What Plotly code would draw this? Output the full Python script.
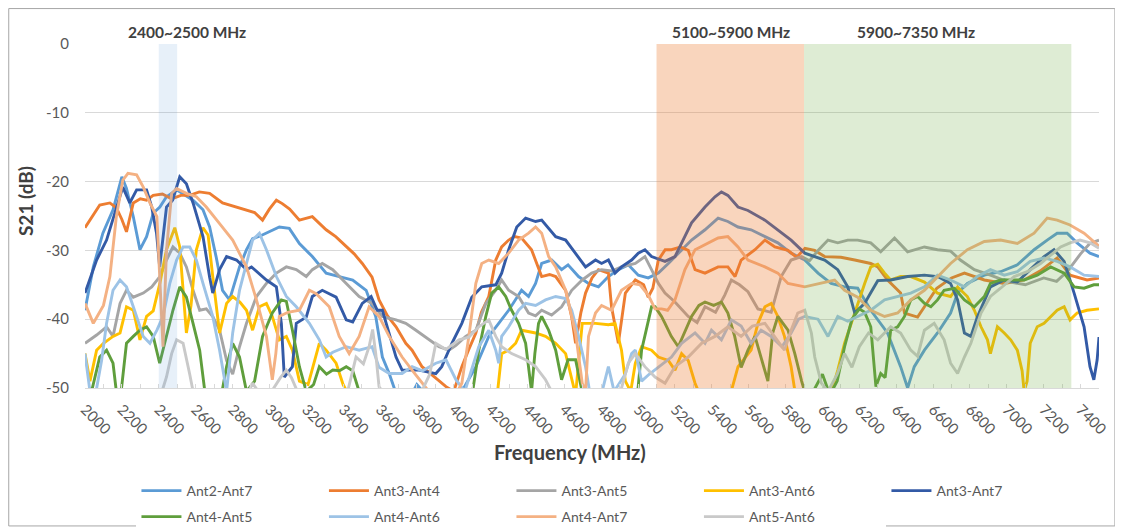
import plotly.graph_objects as go

# Frequency (MHz) / S21 (dB) per antenna pair
ANT2_7_MHZ = [2000, 2045, 2097, 2152, 2200, 2225, 2262, 2298, 2334, 2370,
              2406, 2442, 2497, 2532, 2586, 2640, 2676, 2711, 2746, 2784,
              2838, 2876, 2909, 2950, 2984, 3020, 3054, 3108, 3163, 3233,
              3308, 3379, 3452, 3525, 3577, 3613, 3650, 3690, 3750, 3800,
              3850, 3950, 4044, 4120, 4190, 4244, 4298, 4368, 4406, 4444,
              4477, 4531, 4585, 4620, 4677, 4731, 4785, 4839, 4893, 4947,
              5001, 5055, 5110, 5164, 5218, 5290, 5363, 5434, 5487, 5542,
              5613, 5688, 5758, 5830, 5904, 5976, 6047, 6120, 6191, 6262,
              6353, 6424, 6462, 6498, 6553, 6624, 6695, 6733, 6786, 6878,
              6966, 7057, 7148, 7219, 7273, 7327, 7381, 7451, 7500]
ANT2_7_DB = [-38.7, -32.4, -27.5, -24.1, -19.3, -21.0, -25.1, -29.9, -28.0, -24.6,
             -23.7, -22.2, -21.2, -21.8, -22.7, -24.1, -26.6, -30.9, -35.8, -37.2,
             -32.4, -29.9, -28.3, -27.9, -27.5, -27.0, -26.6, -26.8, -29.0, -30.9,
             -33.3, -33.8, -34.3, -35.8, -39.6, -45.5, -47.9, -51.0, -52.0, -49.5,
             -51.0, -53.0, -50.5, -46.9, -42.5, -40.6, -38.7, -35.8, -36.7, -34.8,
             -31.9, -31.4, -32.8, -32.1, -33.8, -34.8, -35.3, -33.8, -32.8, -32.1,
             -33.6, -34.0, -33.3, -31.9, -30.4, -28.5, -27.0, -25.3, -25.8, -26.6,
             -27.0, -28.0, -28.9, -30.4, -31.4, -33.3, -34.8, -35.3, -35.5, -38.7,
             -42.0, -46.9, -50.0, -46.9, -44.5, -42.0, -39.1, -36.2, -34.8, -33.6,
             -33.1, -32.1, -29.9, -28.5, -27.5, -27.5, -28.9, -30.4, -30.9]

ANT3_4_MHZ = [2000, 2040, 2080, 2135, 2170, 2200, 2225, 2262, 2300, 2334,
              2370, 2420, 2470, 2520, 2568, 2620, 2676, 2746, 2800, 2876,
              2920, 2963, 3000, 3038, 3070, 3110, 3163, 3233, 3308, 3360,
              3417, 3460, 3504, 3557, 3595, 3640, 3687, 3740, 3774, 3828,
              3900, 3958, 4000, 4044, 4080, 4120, 4150, 4190, 4228, 4260,
              4298, 4330, 4368, 4422, 4477, 4520, 4553, 4607, 4640, 4661,
              4690, 4715, 4750, 4785, 4839, 4856, 4893, 4931, 4985, 5030,
              5055, 5080, 5110, 5147, 5181, 5230, 5272, 5309, 5363, 5434,
              5487, 5526, 5559, 5634, 5688, 5742, 5813, 5860, 5905, 5958,
              6012, 6100, 6175, 6262, 6300, 6353, 6424, 6445, 6516, 6560,
              6620, 6700, 6770, 6878, 6986, 7094, 7180, 7273, 7343, 7435,
              7500]
ANT3_4_DB = [-26.7, -25.0, -23.4, -23.1, -23.8, -25.5, -27.3, -23.1, -22.5, -22.7,
             -22.0, -21.8, -22.5, -22.0, -22.0, -21.5, -21.7, -23.1, -23.5, -24.1,
             -24.5, -25.6, -24.0, -22.7, -23.2, -24.0, -25.6, -25.1, -27.0, -28.0,
             -29.5, -30.5, -31.9, -33.9, -37.2, -39.5, -41.1, -43.5, -44.5, -46.9,
             -48.5, -49.8, -50.5, -46.9, -44.5, -42.0, -39.0, -36.7, -31.4, -29.5,
             -28.5, -28.0, -28.2, -29.9, -33.8, -33.5, -33.8, -35.8, -39.7, -43.5,
             -39.0, -36.2, -34.0, -32.8, -33.3, -38.2, -43.5, -36.2, -34.3, -35.0,
             -36.8, -35.5, -31.4, -29.9, -29.9, -29.5, -30.0, -32.8, -33.3, -32.4,
             -32.4, -33.8, -31.4, -29.9, -28.5, -29.5, -30.0, -31.0, -29.7, -30.0,
             -30.9, -31.0, -31.4, -31.9, -32.4, -34.3, -36.2, -39.1, -39.7, -38.0,
             -35.5, -34.0, -33.3, -34.3, -34.8, -34.3, -33.0, -31.1, -33.6, -34.3,
             -34.0]

ANT3_5_MHZ = [2000, 2063, 2117, 2152, 2190, 2225, 2262, 2316, 2362, 2406,
              2442, 2477, 2514, 2550, 2586, 2622, 2658, 2693, 2730, 2768,
              2801, 2838, 2876, 2930, 2984, 3038, 3092, 3146, 3200, 3233,
              3287, 3344, 3417, 3487, 3557, 3613, 3687, 3740, 3795, 3866,
              3920, 3974, 4012, 4065, 4120, 4174, 4228, 4260, 4298, 4352,
              4406, 4444, 4477, 4531, 4585, 4640, 4697, 4748, 4802, 4856,
              4910, 4985, 5037, 5073, 5110, 5146, 5200, 5272, 5320, 5363,
              5420, 5470, 5506, 5550, 5596, 5650, 5722, 5776, 5830, 5887,
              5930, 5976, 6030, 6083, 6137, 6191, 6262, 6316, 6391, 6462,
              6553, 6624, 6695, 6748, 6824, 6911, 7000, 7100, 7200, 7270,
              7330, 7400, 7450, 7500]
ANT3_5_DB = [-43.5, -42.3, -41.1, -42.5, -37.7, -35.8, -36.8, -36.2, -35.3, -33.8,
             -31.4, -29.5, -30.4, -32.4, -35.8, -38.7, -38.5, -39.6, -41.6, -46.0,
             -48.0, -44.0, -40.6, -36.7, -34.8, -33.3, -32.4, -32.8, -33.8, -32.8,
             -31.9, -32.8, -34.8, -36.7, -37.7, -39.6, -40.1, -40.6, -41.6, -43.0,
             -44.0, -44.5, -43.8, -42.5, -41.6, -37.7, -35.8, -34.3, -35.8, -36.7,
             -39.1, -39.5, -38.7, -39.4, -38.2, -35.8, -34.3, -33.3, -32.8, -33.0,
             -32.4, -31.9, -30.9, -32.8, -34.8, -36.2, -37.5, -39.6, -40.5, -38.2,
             -39.0, -36.5, -34.3, -35.0, -36.0, -38.5, -39.0, -33.8, -31.4, -30.9,
             -31.5, -30.0, -28.5, -28.9, -28.5, -28.5, -28.9, -30.2, -28.2, -30.2,
             -29.5, -29.9, -30.1, -31.4, -32.8, -33.6, -34.5, -35.0, -34.0, -34.5,
             -33.0, -30.5, -29.0, -28.5]

ANT3_6_MHZ = [2000, 2027, 2063, 2100, 2152, 2190, 2225, 2262, 2298, 2334,
              2370, 2406, 2442, 2487, 2514, 2532, 2550, 2575, 2604, 2640,
              2668, 2693, 2730, 2768, 2801, 2840, 2876, 2909, 2946, 2984,
              3016, 3054, 3092, 3125, 3163, 3210, 3271, 3308, 3362, 3400,
              3450, 3600, 3800, 4000, 4200, 4240, 4260, 4298, 4336, 4368,
              4406, 4444, 4498, 4553, 4607, 4640, 4661, 4697, 4769, 4839,
              4875, 4910, 4931, 4960, 4985, 5019, 5073, 5110, 5164, 5200,
              5236, 5272, 5309, 5350, 5450, 5500, 5542, 5613, 5650, 5688,
              5722, 5758, 5794, 5830, 5848, 5900, 6000, 6050, 6083, 6120,
              6156, 6191, 6229, 6262, 6300, 6337, 6370, 6424, 6479, 6553,
              6624, 6695, 6733, 6786, 6824, 6860, 6895, 6911, 6949, 6986,
              7021, 7057, 7083, 7094, 7110, 7127, 7165, 7202, 7238, 7273,
              7311, 7343, 7381, 7435, 7500]
ANT3_6_DB = [-45.0, -49.0, -44.5, -43.5, -42.5, -42.0, -38.2, -38.7, -43.0, -39.6,
             -38.8, -34.8, -29.9, -26.7, -29.5, -35.8, -42.0, -38.0, -29.9, -26.7,
             -27.8, -33.8, -42.0, -37.7, -36.7, -37.5, -38.7, -41.6, -38.2, -37.7,
             -39.6, -43.0, -42.5, -44.5, -49.0, -49.5, -43.5, -44.5, -46.4, -49.5,
             -52.0, -54.0, -55.0, -55.0, -53.0, -50.0, -45.0, -44.5, -43.5, -41.6,
             -41.8, -42.0, -42.5, -43.5, -45.0, -49.0, -51.0, -40.6, -40.6, -40.8,
             -40.6, -44.5, -49.0, -50.5, -46.4, -44.0, -44.5, -45.5, -46.0, -47.4,
             -45.0, -46.0, -49.3, -52.0, -53.0, -51.0, -46.9, -44.5, -40.6, -38.2,
             -37.7, -39.6, -42.5, -46.9, -50.0, -53.0, -54.0, -50.5, -47.4, -43.5,
             -40.6, -37.7, -34.8, -32.4, -32.0, -33.3, -34.3, -33.8, -33.8, -34.6,
             -36.2, -36.7, -35.3, -36.7, -38.7, -41.1, -43.0, -45.0, -41.1, -42.0,
             -43.0, -44.5, -47.5, -50.5, -49.0, -43.5, -41.1, -40.6, -39.6, -38.7,
             -38.2, -40.1, -39.1, -38.7, -38.5]

ANT3_7_MHZ = [2000, 2063, 2117, 2170, 2205, 2243, 2280, 2334, 2362, 2388,
              2405, 2442, 2475, 2514, 2550, 2586, 2640, 2676, 2693, 2730,
              2768, 2822, 2876, 2903, 2984, 3038, 3065, 3081, 3125, 3146,
              3200, 3233, 3287, 3362, 3417, 3452, 3504, 3552, 3585, 3613,
              3650, 3687, 3720, 3812, 3903, 3935, 3990, 4044, 4098, 4152,
              4228, 4260, 4298, 4342, 4390, 4444, 4477, 4553, 4607, 4661,
              4715, 4769, 4802, 4839, 4875, 4910, 4965, 5001, 5037, 5073,
              5127, 5146, 5200, 5236, 5290, 5363, 5417, 5452, 5487, 5542,
              5596, 5688, 5758, 5830, 5904, 5958, 6012, 6083, 6137, 6175,
              6229, 6265, 6300, 6370, 6462, 6553, 6625, 6695, 6733, 6770,
              6805, 6840, 6878, 6911, 6986, 7057, 7127, 7202, 7256, 7311,
              7365, 7419, 7451, 7472, 7490, 7500]
ANT3_7_DB = [-36.2, -31.4, -28.5, -23.7, -20.8, -23.1, -21.2, -21.2, -23.7, -27.5,
             -32.4, -23.7, -22.7, -19.3, -20.3, -23.1, -28.0, -33.9, -36.2, -32.8,
             -30.9, -31.4, -32.8, -32.4, -34.3, -35.3, -40.6, -48.4, -46.9, -40.6,
             -39.7, -36.7, -35.8, -36.8, -40.1, -40.4, -37.7, -36.7, -38.7, -38.7,
             -42.0, -45.5, -47.4, -47.4, -47.9, -46.9, -43.5, -40.6, -36.8, -35.3,
             -35.0, -33.3, -29.9, -26.6, -25.3, -25.8, -25.6, -28.0, -28.5, -30.4,
             -32.4, -31.4, -31.9, -31.4, -33.3, -32.4, -31.4, -30.4, -29.9, -30.9,
             -31.4, -31.6, -30.9, -28.9, -26.0, -23.7, -22.2, -21.5, -22.0, -23.7,
             -24.2, -25.6, -27.0, -28.5, -30.4, -30.9, -31.4, -32.8, -35.3, -39.1,
             -37.7, -36.0, -34.4, -34.3, -33.8, -33.6, -33.8, -34.8, -37.2, -42.0,
             -42.5, -39.7, -37.2, -35.3, -34.3, -34.6, -32.8, -30.9, -29.9, -31.6,
             -36.2, -41.1, -46.9, -48.8, -45.9, -42.6]

ANT4_5_MHZ = [2000, 2040, 2080, 2117, 2152, 2170, 2190, 2210, 2225, 2262,
              2298, 2334, 2370, 2405, 2442, 2477, 2514, 2550, 2586, 2622,
              2650, 2700, 2740, 2768, 2801, 2838, 2876, 2920, 2963, 3016,
              3065, 3092, 3125, 3163, 3200, 3240, 3271, 3310, 3344, 3380,
              3417, 3452, 3487, 3600, 3800, 4000, 4100, 4136, 4174, 4206,
              4244, 4282, 4314, 4352, 4390, 4422, 4440, 4460, 4477, 4515,
              4553, 4585, 4620, 4661, 4700, 4800, 4950, 5000, 5019, 5055,
              5073, 5092, 5127, 5146, 5180, 5218, 5250, 5290, 5330, 5363,
              5410, 5452, 5487, 5524, 5559, 5596, 5634, 5667, 5704, 5730,
              5758, 5813, 5850, 5887, 5920, 5960, 6000, 6040, 6080, 6120,
              6160, 6200, 6229, 6262, 6290, 6316, 6340, 6370, 6408, 6445,
              6479, 6516, 6553, 6588, 6624, 6660, 6716, 6770, 6824, 6878,
              6911, 6966, 7021, 7094, 7165, 7238, 7311, 7365, 7419, 7472,
              7500]
ANT4_5_DB = [-50.5, -50.0, -45.5, -44.5, -46.4, -50.5, -52.0, -47.0, -43.5, -42.5,
             -41.6, -41.1, -42.5, -46.4, -42.5, -38.7, -35.3, -36.8, -40.6, -44.5,
             -50.5, -53.0, -51.0, -46.9, -43.5, -45.5, -50.5, -49.0, -42.5, -39.1,
             -37.2, -37.4, -41.6, -46.9, -50.5, -49.5, -46.9, -48.0, -47.4, -47.5,
             -46.9, -47.5, -50.5, -54.0, -55.0, -55.0, -51.0, -44.5, -39.6, -36.2,
             -35.3, -36.7, -38.7, -40.6, -43.5, -50.5, -45.0, -40.6, -39.6, -41.6,
             -44.5, -48.8, -45.9, -45.9, -51.0, -54.0, -52.0, -50.0, -44.5, -40.6,
             -38.2, -38.2, -39.6, -40.6, -42.5, -44.0, -42.0, -39.6, -38.0, -37.5,
             -38.0, -37.5, -39.1, -42.5, -47.0, -44.5, -42.5, -45.5, -49.0, -42.0,
             -39.6, -41.6, -45.0, -49.0, -52.0, -50.0, -48.0, -51.0, -49.0, -44.0,
             -40.0, -38.5, -39.0, -41.1, -49.8, -47.9, -48.5, -41.6, -41.1, -39.6,
             -37.2, -36.7, -37.7, -38.2, -37.2, -35.8, -35.5, -37.2, -38.2, -36.7,
             -34.8, -34.3, -34.3, -34.3, -33.6, -32.4, -33.3, -35.3, -35.5, -35.0,
             -35.0]

ANT4_6_MHZ = [2000, 2027, 2060, 2090, 2117, 2152, 2190, 2225, 2262, 2316,
              2352, 2390, 2423, 2460, 2497, 2532, 2568, 2604, 2640, 2693,
              2730, 2768, 2801, 2838, 2876, 2909, 2946, 2984, 3038, 3092,
              3146, 3217, 3271, 3308, 3344, 3417, 3487, 3557, 3595, 3650,
              3720, 3774, 3830, 3903, 3958, 4012, 4060, 4100, 4136, 4190,
              4228, 4244, 4260, 4298, 4352, 4390, 4444, 4498, 4553, 4607,
              4640, 4677, 4715, 4740, 4800, 4839, 4870, 4930, 4965, 4985,
              5019, 5060, 5110, 5181, 5236, 5309, 5363, 5398, 5452, 5506,
              5559, 5613, 5667, 5722, 5780, 5830, 5870, 5904, 5976, 6030,
              6083, 6137, 6191, 6262, 6337, 6408, 6479, 6553, 6624, 6695,
              6770, 6840, 6911, 6986, 7057, 7127, 7202, 7273, 7343, 7419,
              7500]
ANT4_6_DB = [-45.0, -50.5, -50.5, -46.0, -40.6, -35.8, -34.3, -35.3, -38.2, -42.5,
             -43.5, -41.6, -39.6, -34.8, -31.4, -29.5, -29.5, -31.4, -34.8, -39.6,
             -44.5, -50.5, -42.0, -35.8, -31.9, -28.5, -27.5, -29.9, -33.8, -36.7,
             -38.2, -40.6, -43.0, -45.5, -44.8, -44.0, -44.5, -44.0, -47.0, -47.9,
             -47.9, -46.9, -47.5, -46.4, -45.9, -48.8, -50.5, -47.0, -44.0, -41.6,
             -44.5, -46.4, -42.5, -41.1, -38.7, -37.7, -38.0, -37.2, -36.7, -37.0,
             -38.7, -42.5, -46.9, -51.0, -51.0, -46.9, -50.5, -48.0, -45.0, -44.5,
             -49.0, -48.0, -47.0, -45.5, -43.5, -42.0, -43.5, -41.6, -43.0, -40.1,
             -41.0, -43.5, -41.6, -42.5, -44.0, -42.0, -40.0, -39.6, -40.0, -42.5,
             -39.6, -40.3, -39.6, -38.7, -37.2, -36.7, -36.2, -35.3, -33.6, -34.3,
             -35.3, -33.8, -32.8, -33.6, -33.1, -31.6, -31.1, -31.6, -32.4, -33.6,
             -33.8]

ANT4_7_MHZ = [2000, 2045, 2100, 2135, 2170, 2205, 2233, 2280, 2316, 2352,
              2390, 2416, 2423, 2442, 2470, 2497, 2550, 2604, 2658, 2730,
              2801, 2876, 2930, 2984, 3016, 3035, 3054, 3100, 3163, 3217,
              3254, 3325, 3379, 3433, 3487, 3541, 3595, 3650, 3720, 3774,
              3828, 3880, 3950, 4010, 4044, 4082, 4120, 4152, 4190, 4244,
              4298, 4352, 4406, 4444, 4477, 4515, 4553, 4607, 4661, 4697,
              4715, 4731, 4769, 4802, 4856, 4910, 4965, 5010, 5055, 5092,
              5127, 5160, 5200, 5254, 5309, 5380, 5434, 5487, 5542, 5596,
              5688, 5758, 5813, 5904, 5994, 6066, 6120, 6191, 6262, 6337,
              6408, 6479, 6553, 6624, 6695, 6786, 6878, 6966, 7057, 7148,
              7219, 7273, 7343, 7419, 7490, 7500]
ANT4_7_DB = [-37.7, -40.6, -38.0, -33.8, -25.1, -19.8, -18.8, -19.0, -20.8, -23.1,
             -25.1, -39.6, -44.0, -30.0, -21.7, -21.0, -21.7, -22.2, -23.7, -26.1,
             -28.5, -32.4, -37.2, -42.5, -48.8, -45.0, -39.6, -39.0, -38.7, -35.8,
             -36.3, -38.2, -42.5, -45.0, -42.5, -38.2, -39.6, -42.5, -45.5, -47.4,
             -49.3, -51.0, -52.0, -51.0, -49.3, -42.5, -34.8, -31.9, -31.4, -31.9,
             -30.4, -28.5, -27.5, -26.6, -27.5, -30.9, -32.4, -35.8, -42.0, -49.3,
             -50.5, -42.5, -39.1, -38.0, -38.7, -35.8, -34.8, -35.0, -36.5, -38.5,
             -38.5, -38.7, -37.2, -32.8, -29.9, -28.9, -28.2, -28.0, -29.5, -31.4,
             -32.4, -33.3, -34.8, -35.3, -34.8, -34.3, -35.8, -36.8, -38.7, -39.6,
             -39.1, -37.2, -35.8, -33.8, -31.9, -29.9, -28.7, -28.5, -29.0, -27.5,
             -25.3, -25.6, -26.3, -27.5, -29.2, -29.4]

ANT5_6_MHZ = [2000, 2100, 2200, 2300, 2400, 2442, 2470, 2497, 2532, 2568,
              2590, 2700, 2800, 2880, 2909, 2940, 3000, 3060, 3092, 3120,
              3160, 3300, 3420, 3470, 3510, 3541, 3560, 3577, 3595, 3650,
              3800, 3870, 3903, 3958, 4028, 4082, 4136, 4190, 4228, 4260,
              4314, 4390, 4444, 4498, 4531, 4700, 4900, 4947, 4985, 5037,
              5092, 5146, 5200, 5272, 5345, 5417, 5487, 5559, 5620, 5688,
              5742, 5794, 5830, 5866, 5904, 5940, 5958, 5994, 6030, 6080,
              6120, 6160, 6200, 6250, 6300, 6370, 6424, 6479, 6516, 6553,
              6606, 6660, 6695, 6733, 6770, 6805, 6860, 6911, 6966, 7040,
              7111, 7183, 7238, 7292, 7343, 7397, 7451, 7500]
ANT5_6_DB = [-52.0, -53.0, -54.0, -54.0, -52.0, -48.4, -45.0, -43.0, -43.5, -48.0,
             -51.0, -54.0, -53.0, -51.0, -49.3, -50.5, -51.0, -48.5, -47.4, -48.5,
             -51.0, -53.0, -51.0, -45.5, -46.5, -44.0, -41.5, -45.0, -49.8, -52.0,
             -52.0, -48.0, -43.5, -44.4, -43.0, -42.6, -41.1, -40.1, -42.5, -44.0,
             -45.0, -45.9, -46.9, -48.8, -50.5, -53.0, -51.0, -46.4, -45.0, -46.9,
             -48.4, -49.3, -46.9, -45.5, -43.5, -42.5, -41.1, -42.5, -41.0, -40.6,
             -42.5, -44.5, -41.6, -39.1, -38.7, -42.0, -45.5, -49.3, -50.5, -48.0,
             -45.0, -47.0, -44.0, -42.0, -43.0, -41.1, -42.0, -44.5, -45.4, -41.6,
             -40.6, -43.0, -46.4, -47.9, -45.5, -43.5, -39.1, -36.7, -35.5, -33.8,
             -33.1, -31.9, -30.7, -29.5, -28.9, -28.5, -28.9, -29.7]

# (legend name, x, y, colour, legend row)
SERIES = [
    ("Ant2-Ant7", ANT2_7_MHZ, ANT2_7_DB, "#5B9BD5", "legend"),
    ("Ant3-Ant4", ANT3_4_MHZ, ANT3_4_DB, "#ED7D31", "legend"),
    ("Ant3-Ant5", ANT3_5_MHZ, ANT3_5_DB, "#A5A5A5", "legend"),
    ("Ant3-Ant6", ANT3_6_MHZ, ANT3_6_DB, "#FFC000", "legend"),
    ("Ant3-Ant7", ANT3_7_MHZ, ANT3_7_DB, "#335AA6", "legend"),
    ("Ant4-Ant5", ANT4_5_MHZ, ANT4_5_DB, "#5F9E3C", "legend2"),
    ("Ant4-Ant6", ANT4_6_MHZ, ANT4_6_DB, "#9DC3E6", "legend2"),
    ("Ant4-Ant7", ANT4_7_MHZ, ANT4_7_DB, "#F4B183", "legend2"),
    ("Ant5-Ant6", ANT5_6_MHZ, ANT5_6_DB, "#C9C9C9", "legend2"),
]

# Highlighted bands (start, end, fill) and their labels (label, x position)
BANDS = [
    (2400, 2500, "rgba(91,155,213,0.15)"),
    (5100, 5900, "rgba(237,125,49,0.32)"),
    (5900, 7350, "rgba(112,173,71,0.23)"),
]
BAND_LABELS = [("2400~2500 MHz", 2555), ("5100~5900 MHz", 5505), ("5900~7350 MHz", 6505)]

X_RANGE = [2000, 7500]
Y_RANGE = [-50, 0]
Y_TICKS = [0, -10, -20, -30, -40, -50]
Y_TICKTEXT = ["0", "-10", "-20", "-30", "-40", "-50"]

TEXT_DARK = "#404040"
TEXT_GREY = "#595959"
GRID = "#D9D9D9"
FONT = "Lato, 'Liberation Sans', sans-serif"

# the page adds an 8px body margin, so the figure is a little smaller than the window
W, H = 1115, 520

fig = go.Figure()
for name, xs, ys, color, leg in SERIES:
    assert len(xs) == len(ys), name
    fig.add_trace(go.Scatter(
        x=xs, y=ys, name=name, mode="lines", legend=leg,
        line=dict(color=color, width=2.9),
    ))

for x0, x1, fill in BANDS:
    fig.add_shape(type="rect", xref="x", yref="y", x0=x0, x1=x1,
                  y0=Y_RANGE[0], y1=Y_RANGE[1], fillcolor=fill,
                  line=dict(width=0), layer="above")

for label, xpos in BAND_LABELS:
    fig.add_annotation(text=label, x=xpos, xref="x", y=1, yref="paper",
                       yanchor="bottom", yshift=1, showarrow=False,
                       font=dict(size=15.5, color=TEXT_DARK, family=FONT, weight="bold"))

# axis titles (Excel centres them slightly off the plot centre)
fig.add_annotation(text="Frequency (MHz)", x=0.478, xref="paper", y=-0.186, yref="paper",
                   xanchor="center", yanchor="middle", showarrow=False,
                   font=dict(size=20, color=TEXT_DARK, family=FONT, weight="bold"))
fig.add_annotation(text="S21 (dB)", x=-0.058, xref="paper", y=0.544, yref="paper",
                   xanchor="center", yanchor="middle", textangle=-90, showarrow=False,
                   font=dict(size=19, color=TEXT_DARK, family=FONT, weight="bold"))

# chart-area border
fig.add_shape(type="rect", xref="paper", yref="paper",
              x0=-0.0752, x1=1.0157, y0=-0.401, y1=1.103,
              line=dict(color="#A6A6A6", width=1), fillcolor="rgba(0,0,0,0)")

legend_common = dict(
    orientation="h", xref="container", yref="container",
    x=0.1152, xanchor="left", yanchor="top",
    entrywidth=132.5, entrywidthmode="pixels",
    font=dict(size=14, color=TEXT_GREY), itemwidth=40,
)

fig.update_layout(
    width=W, height=H,
    margin=dict(l=77, r=21, t=36, b=140),
    plot_bgcolor="white", paper_bgcolor="white",
    font=dict(family=FONT, size=15, color=TEXT_GREY),
    legend=dict(legend_common, y=0.1019),
    legend2=dict(legend_common, y=0.0519),
    xaxis=dict(
        range=X_RANGE, tickmode="linear", tick0=2000, dtick=200,
        tickangle=45, showgrid=False, zeroline=False,
        showline=True, linecolor=GRID, linewidth=1,
        ticks="inside", ticklen=4, tickcolor=GRID,
        minor=dict(dtick=100, ticks="inside", ticklen=4, tickcolor=GRID),
        ticklabelstandoff=6,
    ),
    yaxis=dict(
        range=Y_RANGE, tickmode="array", tickvals=Y_TICKS, ticktext=Y_TICKTEXT,
        showgrid=True, gridcolor=GRID,
        zeroline=False, showline=False, ticks="",
        ticklabelstandoff=15,
    ),
)

fig.write_html("out.html")
